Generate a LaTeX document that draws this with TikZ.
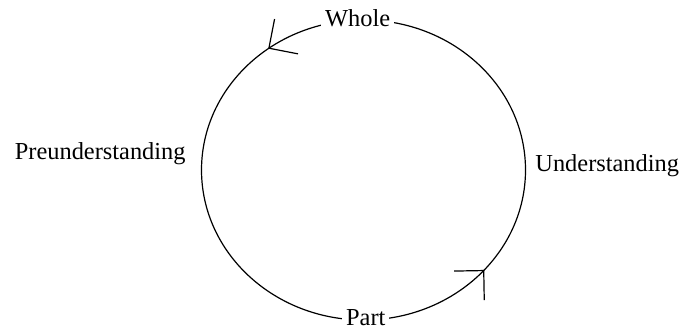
\documentclass[tikz,border=0pt]{standalone}
\usepackage{fontspec}
\setmainfont{Liberation Serif}
\usetikzlibrary{arrows.meta,decorations.markings}
\tikzset{
cycleline/.style={draw=black, line width=0.6pt},
cyclelabel/.style={fill=white, inner sep=2pt, font=\fontsize{12.2}{15}\selectfont},
cyclearrow/.style={postaction={decorate, decoration={markings,
  mark=at position #1 with {\arrow{Straight Barb[length=10.5pt, width=21pt, line width=0.6pt]}}}}}
}
\begin{document}
\begin{tikzpicture}[x=0.5pt, y=0.5pt]
  \useasboundingbox (0,0) rectangle (683,331);
  \coordinate (ctr) at (363.5,161);
  \draw[cycleline, cyclearrow=0.353, cyclearrow=0.887] (ctr) ellipse [x radius=162, y radius=150];
  \node[cyclelabel, anchor=base] (whole) at (357.7,304) {Whole};
  \node[cyclelabel, anchor=base] (part) at (365.8,6) {Part};
  \node[cyclelabel, anchor=base west, fill=none] (under) at (531,159.3) {Understanding};
  \node[cyclelabel, anchor=base east, fill=none] (pre) at (190,171) {Preunderstanding};
\end{tikzpicture}
\end{document}
